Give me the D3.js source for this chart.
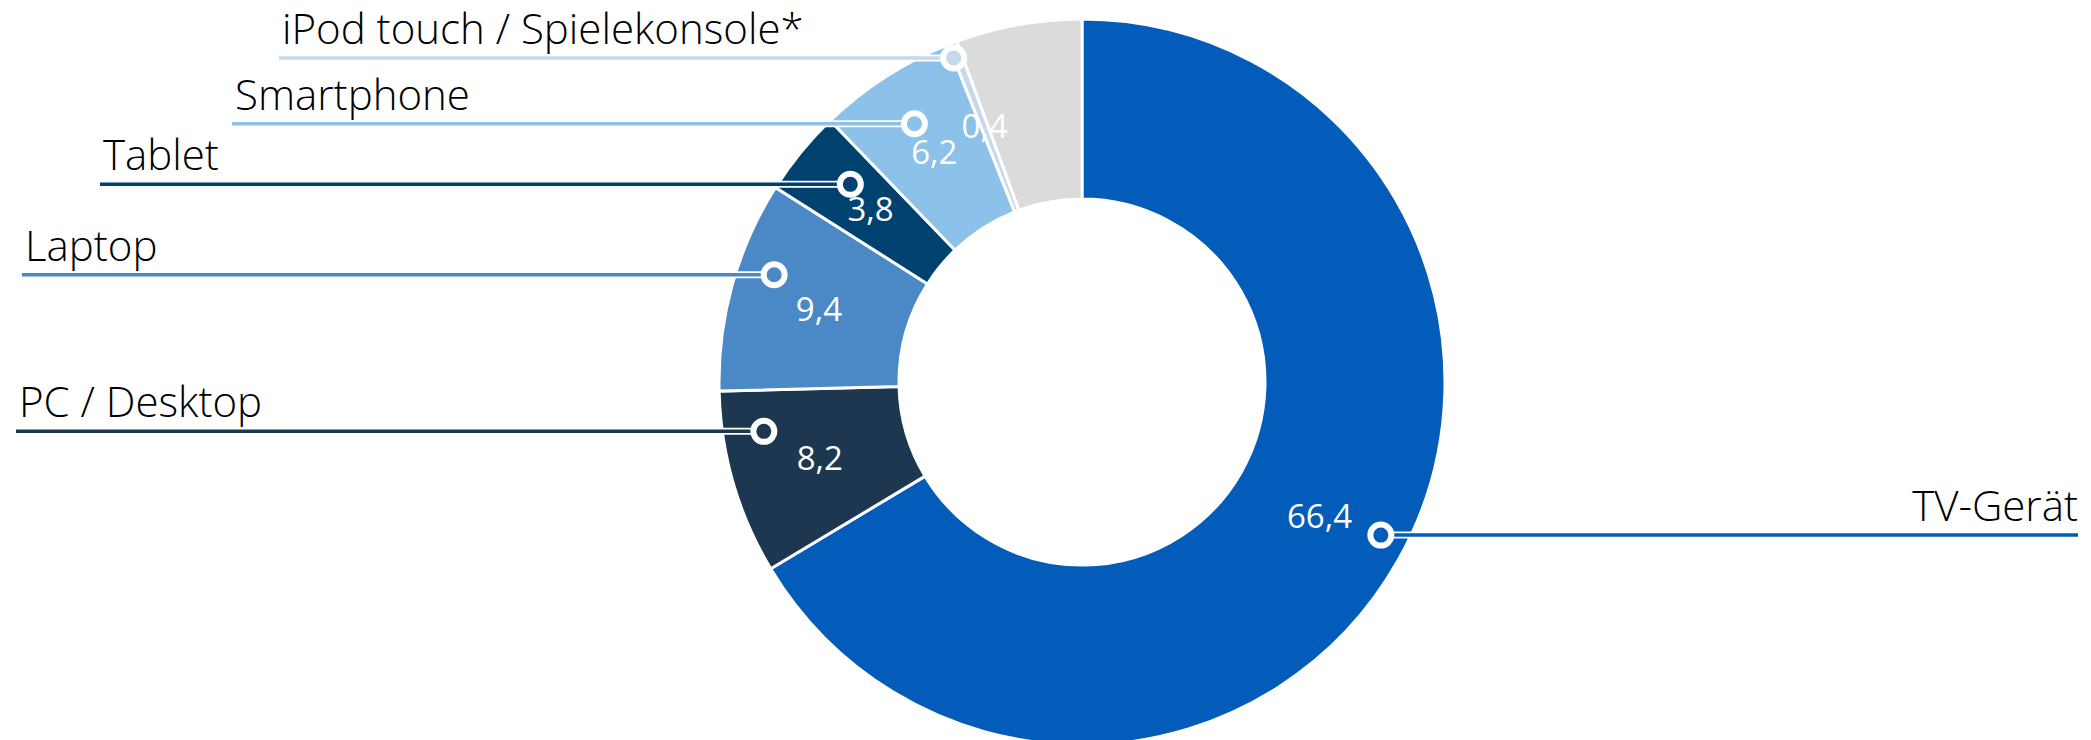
<!DOCTYPE html>
<html>
<head>
<meta charset="utf-8">
<script src="https://cdn.jsdelivr.net/npm/d3@7"></script>
<style>
  html, body { margin: 0; padding: 0; background: #fff; }
  svg { display: block; }
  text { font-family: "Open Sans", "Noto Sans", sans-serif; }
</style>
</head>
<body>
<svg id="chart" width="2091" height="740"></svg>
<script>
// ---- data ----
const categories = ["TV-Gerät", "PC / Desktop", "Laptop", "Tablet", "Smartphone", "iPod touch / Spielekonsole*", "Sonstige"];
const values = [66.4, 8.2, 9.4, 3.8, 6.2, 0.4, 5.6];
const showLabel = [true, true, true, true, true, true, false];

// ---- style ----
const colors = ["#035BBA", "#1E3751", "#4A89C6", "#00426F", "#8CC1EA", "#C5D9EE", "#DBDBDB"];

// ---- callout layout (fraction along the slice, radius fraction, label edge x) ----
const calloutFrac = [0.49, 0.75, 0.61, 0.59, 0.49, 0.0];
const calloutRad = [0.925, 0.887, 0.898, 0.839, 0.848, 0.96];
const labelEdgeX = [2078, 16, 22, 100, 232, 279];

const W = 2091, H = 740;
const cx = 1082, cy = 382, R = 363, r = 183;

const svg = d3.select("#chart");
const g = svg.append("g").attr("transform", `translate(${cx},${cy})`);

const data = categories.map((c, i) => ({ cat: c, value: values[i], i }));
const pie = d3.pie().sort(null).value(d => d.value).startAngle(0).endAngle(2 * Math.PI);
const arcs = pie(data);
const arc = d3.arc().innerRadius(r).outerRadius(R);

g.selectAll("path.slice")
  .data(arcs)
  .join("path")
  .attr("class", "slice")
  .attr("d", arc)
  .attr("fill", d => colors[d.data.i])
  .attr("stroke", "#fff")
  .attr("stroke-width", 3)
  .attr("stroke-linejoin", "miter");

// value labels at centroid
const fmt = v => d3.format(".1f")(v).replace(".", ",");
g.selectAll("text.val")
  .data(arcs.filter(d => showLabel[d.data.i]))
  .join("text")
  .attr("class", "val")
  .attr("x", d => arc.centroid(d)[0])
  .attr("y", d => arc.centroid(d)[1])
  .attr("text-anchor", "middle")
  .attr("dy", "0.35em")
  .attr("fill", "#fff")
  .attr("font-size", 33)
  .attr("font-weight", 400)
  .text(d => fmt(d.data.value));

// callouts
const callouts = arcs.filter(d => showLabel[d.data.i]).map(d => {
  const i = d.data.i;
  const a = d.startAngle + calloutFrac[i] * (d.endAngle - d.startAngle);
  const rr = calloutRad[i] * R;
  const px = cx + rr * Math.sin(a);
  const py = cy - rr * Math.cos(a);
  return { d, i, px, py, right: px > cx };
});

const cg = svg.append("g");
cg.selectAll("line.outline")
  .data(callouts)
  .join("line")
  .attr("class", "outline")
  .attr("x1", c => c.px)
  .attr("y1", c => c.py)
  .attr("x2", c => labelEdgeX[c.i])
  .attr("y2", c => c.py)
  .attr("stroke", "#fff")
  .attr("stroke-width", 7);
cg.selectAll("line.lead")
  .data(callouts)
  .join("line")
  .attr("class", "lead")
  .attr("x1", c => c.px)
  .attr("y1", c => c.py)
  .attr("x2", c => labelEdgeX[c.i])
  .attr("y2", c => c.py)
  .attr("stroke", c => colors[c.i])
  .attr("stroke-width", 3.5);
cg.selectAll("circle.marker")
  .data(callouts)
  .join("circle")
  .attr("class", "marker")
  .attr("cx", c => c.px)
  .attr("cy", c => c.py)
  .attr("r", 10.5)
  .attr("fill", c => colors[c.i])
  .attr("stroke", "#fff")
  .attr("stroke-width", 6);

cg.selectAll("text.cat")
  .data(callouts)
  .join("text")
  .attr("class", "cat")
  .attr("x", c => c.right ? labelEdgeX[c.i] : labelEdgeX[c.i] + 3)
  .attr("y", c => c.py - 14)
  .attr("text-anchor", c => c.right ? "end" : "start")
  .attr("fill", "#000")
  .attr("font-size", 42)
  .attr("font-weight", 300)
  .text(c => c.d.data.cat);
</script>
</body>
</html>
